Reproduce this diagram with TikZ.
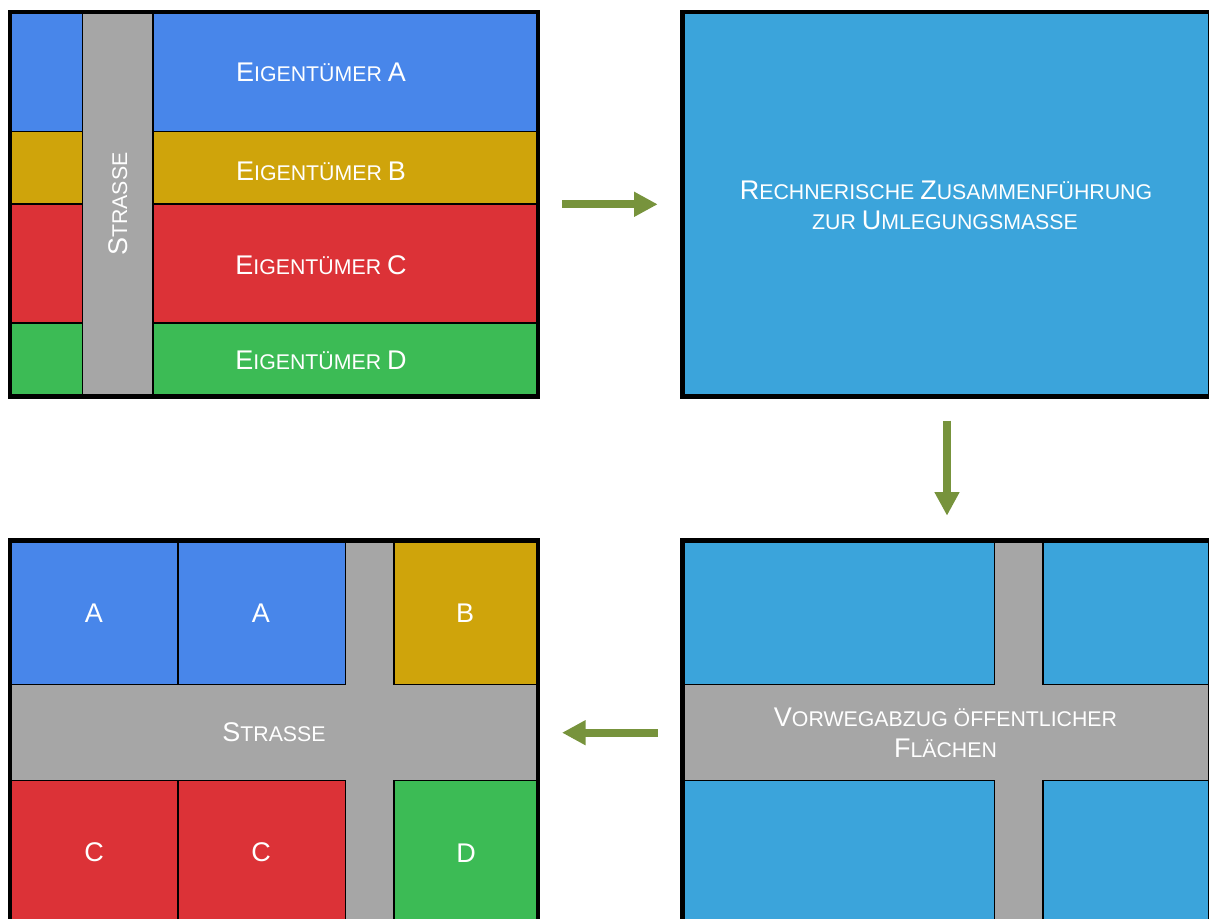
\documentclass[tikz,border=0pt]{standalone}
\usepackage{fontspec}
\setmainfont{Liberation Sans}
\usetikzlibrary{arrows.meta}
\definecolor{cA}{HTML}{4886EA}
\definecolor{cB}{HTML}{CFA40B}
\definecolor{cC}{HTML}{DC3237}
\definecolor{cD}{HTML}{3CBB55}
\definecolor{cP}{HTML}{3BA4DB}
\definecolor{cS}{HTML}{A6A6A6}
\definecolor{cArr}{HTML}{77933C}
\newcommand\Bg[1]{{\fontsize{27}{30}\selectfont #1}}
\newcommand\Sm[1]{{\fontsize{21.3}{25}\selectfont #1}}
\newcommand\Ltr[1]{{\fontsize{27}{30}\selectfont #1}}
\begin{document}
\begin{tikzpicture}[x=1pt,y=-1pt,
  blk/.style={draw=black,line width=1.5pt},
  frame/.style={draw=black,line width=4.5pt},
  lbl/.style={text=white,inner sep=0pt,anchor=base},
  bigarrow/.style={draw=cArr,line width=8pt,-{Triangle[length=23.5pt,width=23.4pt]}}]
\useasboundingbox (0,0) rectangle (1209,918);
% ---------- top-left panel
\fill[cS] (10,12) rectangle (538,396.5);
\filldraw[blk,fill=cA] (10,12) rectangle (82.3,131.5);
\filldraw[blk,fill=cB] (10,131.5) rectangle (82.3,204);
\filldraw[blk,fill=cC] (10,204) rectangle (82.3,323);
\filldraw[blk,fill=cD] (10,323) rectangle (82.3,396.5);
\filldraw[blk,fill=cA] (153,12) rectangle (538,131.5);
\filldraw[blk,fill=cB] (153,131.5) rectangle (538,204);
\filldraw[blk,fill=cC] (153,204) rectangle (538,323);
\filldraw[blk,fill=cD] (153,323) rectangle (538,396.5);
\draw[frame] (10,12) rectangle (538,396.5);
\node[lbl] (tA) at (321,81) {\Bg{E}\Sm{IGENTÜMER }\Bg{A}};
\node[lbl] (tB) at (321,180) {\Bg{E}\Sm{IGENTÜMER }\Bg{B}};
\node[lbl] (tC) at (321,274) {\Bg{E}\Sm{IGENTÜMER }\Bg{C}};
\node[lbl] (tD) at (321,369) {\Bg{E}\Sm{IGENTÜMER }\Bg{D}};
\node[lbl,rotate=90] (tS1) at (127,204) {\Bg{S}\Sm{TRASSE}};
% ---------- top-right panel
\fill[cP] (682.5,12) rectangle (1210.5,396.5);
\draw[frame] (682.5,12) rectangle (1210.5,396.5);
\node[lbl] (tR1) at (946,199.3) {\Bg{R}\Sm{ECHNERISCHE }\Bg{Z}\Sm{USAMMENFÜHRUNG}};
\node[lbl] (tR2) at (945,229.3) {\Sm{ZUR }\Bg{U}\Sm{MLEGUNGSMASSE}};
% ---------- bottom-left panel
\fill[cS] (10,540.5) rectangle (538,930);
\filldraw[blk,fill=cA] (10,540.5) rectangle (178,684.3);
\filldraw[blk,fill=cA] (178,540.5) rectangle (345.7,684.3);
\filldraw[blk,fill=cB] (394,540.5) rectangle (538,684.3);
\filldraw[blk,fill=cC] (10,780.5) rectangle (178,930);
\filldraw[blk,fill=cC] (178,780.5) rectangle (345.7,930);
\filldraw[blk,fill=cD] (394,780.5) rectangle (538,930);
\draw[frame] (10,540.5) rectangle (538,930);
\node[lbl] (lA1) at (94,622.7) {\Ltr{A}};
\node[lbl] (lA2) at (261,622.7) {\Ltr{A}};
\node[lbl] (lB) at (465,622.7) {\Ltr{B}};
\node[lbl] (lS) at (274,741.4) {\Bg{S}\Sm{TRASSE}};
\node[lbl] (lC1) at (94,861) {\Ltr{C}};
\node[lbl] (lC2) at (261,861) {\Ltr{C}};
\node[lbl] (lD) at (466,862) {\Ltr{D}};
% ---------- bottom-right panel
\fill[cS] (682.5,540.5) rectangle (1210.5,930);
\filldraw[blk,fill=cP] (682.5,540.5) rectangle (994.7,684.3);
\filldraw[blk,fill=cP] (1043,540.5) rectangle (1210.5,684.3);
\filldraw[blk,fill=cP] (682.5,780.5) rectangle (994.7,930);
\filldraw[blk,fill=cP] (1043,780.5) rectangle (1210.5,930);
\draw[frame] (682.5,540.5) rectangle (1210.5,930);
\node[lbl] (tV1) at (945.5,726.7) {\Bg{V}\Sm{ORWEGABZUG ÖFFENTLICHER}};
\node[lbl] (tV2) at (945.5,757.7) {\Bg{F}\Sm{LÄCHEN}};
% ---------- arrows
\coordinate (a1s) at (562,204.3);
\coordinate (a1e) at (657.7,204.3);
\coordinate (a2s) at (947,420.7);
\coordinate (a2e) at (947,515.7);
\coordinate (a3s) at (657.8,732.7);
\coordinate (a3e) at (562,732.7);
\draw[bigarrow] (a1s) -- (a1e);
\draw[bigarrow] (a2s) -- (a2e);
\draw[bigarrow] (a3s) -- (a3e);
\end{tikzpicture}
\end{document}
